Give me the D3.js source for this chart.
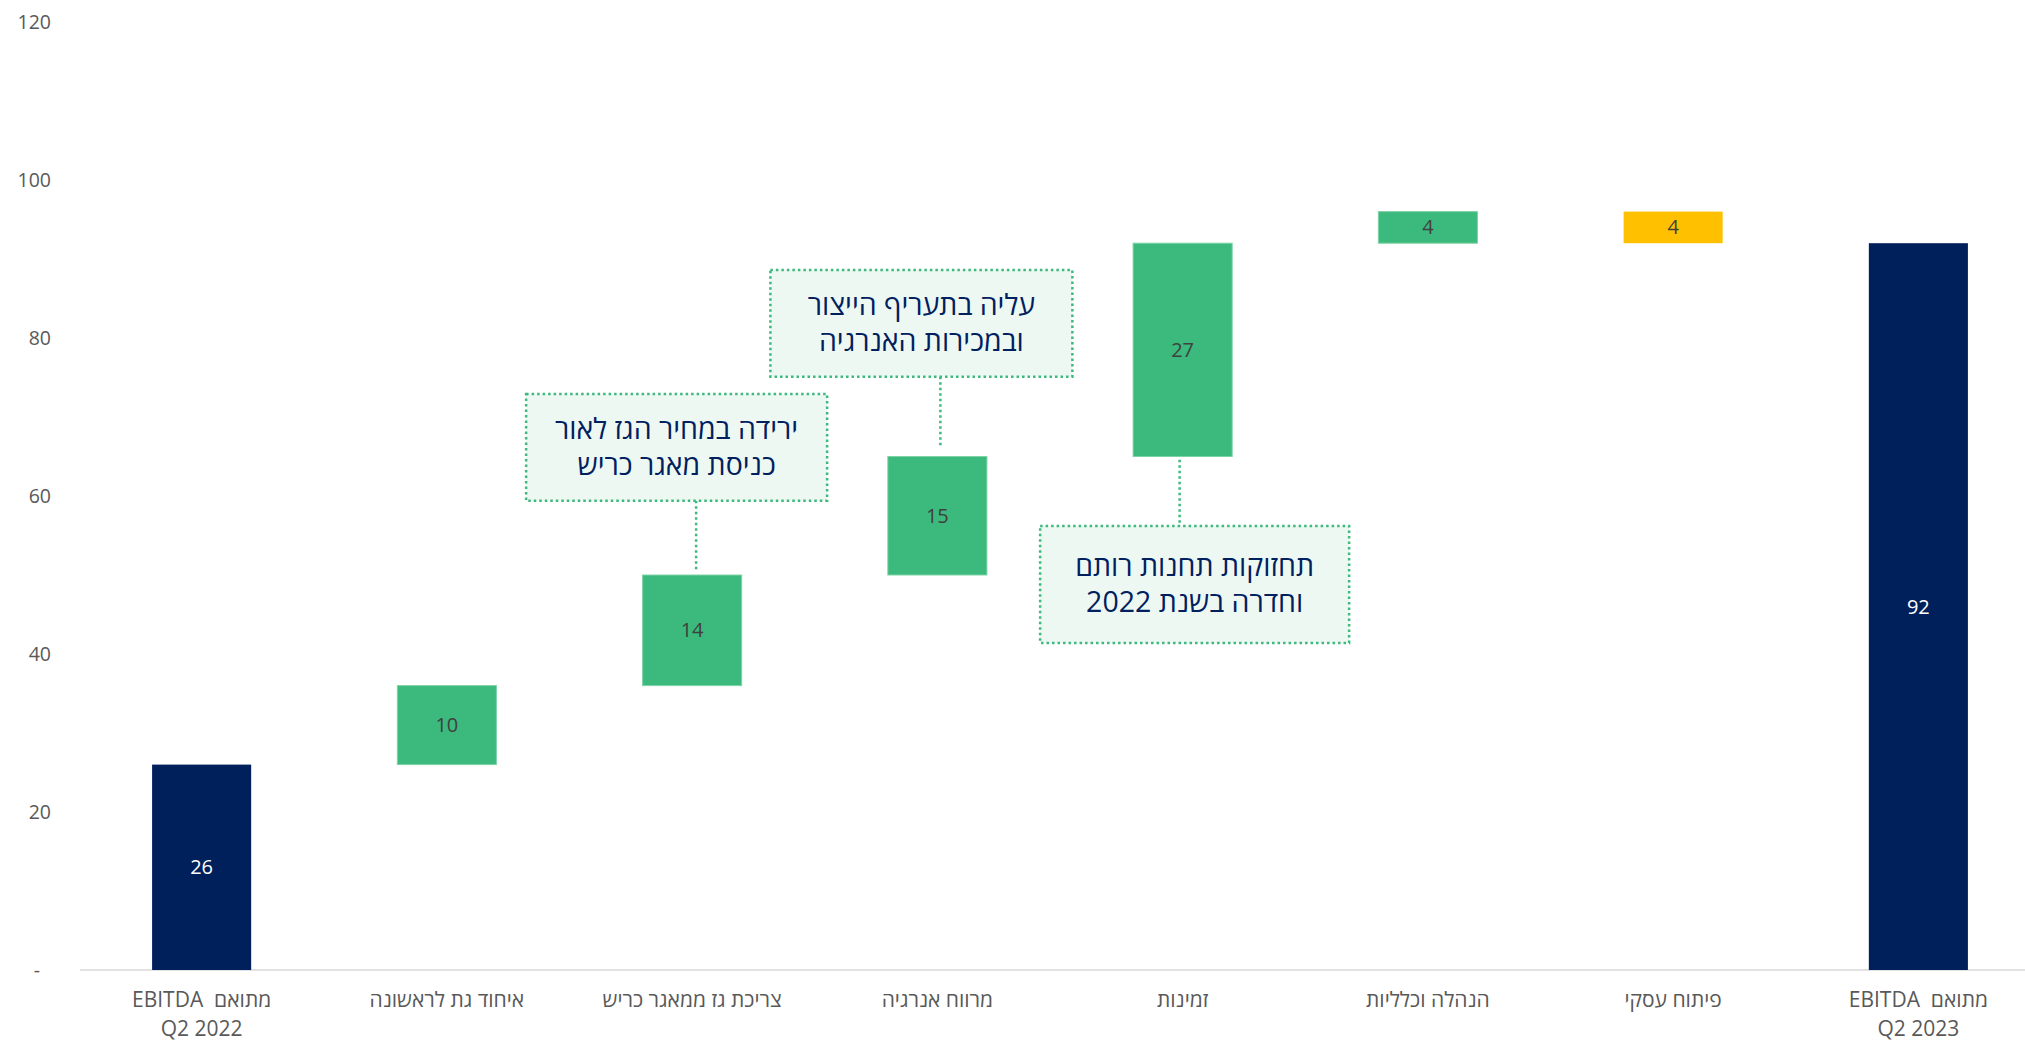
<!DOCTYPE html>
<html>
<head>
<meta charset="utf-8">
<script src="https://cdn.jsdelivr.net/npm/d3@7"></script>
<style>
  html, body { margin: 0; padding: 0; background: #ffffff; }
  svg { display: block; }
</style>
</head>
<body>
<svg id="chart" width="2025" height="1042"></svg>
<script>
// ---------------- DATA ----------------
const categories = [
  "מתואם\u00A0\u00A0EBITDA|Q2 2022",
  "איחוד גת לראשונה",
  "צריכת גז ממאגר כריש",
  "מרווח אנרגיה",
  "זמינות",
  "הנהלה וכלליות",
  "פיתוח עסקי",
  "מתואם\u00A0\u00A0EBITDA|Q2 2023"
];
const deltas = [26, 10, 14, 15, 27, 4, -4, 92];
const kinds  = ["total", "up", "up", "up", "up", "up", "down", "total"];
const yTicks = [0, 20, 40, 60, 80, 100, 120];

const notes = [
  { cat: 2, lines: ["ירידה במחיר הגז לאור", "כניסת מאגר כריש"] },
  { cat: 3, lines: ["עליה בתעריף הייצור", "ובמכירות האנרגיה"] },
  { cat: 4, lines: ["תחזוקות תחנות רותם", "וחדרה בשנת 2022"] }
];

// ---------------- LAYOUT ----------------
const W = 2025, H = 1042;
const svg = d3.select("#chart");

const x = d3.scaleBand()
  .domain(categories)
  .range([79, 2041])
  .paddingInner(0.596)
  .paddingOuter(0.298);

const y = d3.scaleLinear().domain([0, 120]).range([970, 22]);

const colors = { total: "#00205C", up: "#3CB97C", down: "#FFC000" };

// compute waterfall segments
let run = 0;
const bars = categories.map((c, i) => {
  let lo, hi;
  if (kinds[i] === "total") { lo = 0; hi = deltas[i]; run = deltas[i]; }
  else { const s = run; run = run + deltas[i]; lo = Math.min(s, run); hi = Math.max(s, run); }
  return { cat: c, lo, hi, kind: kinds[i], label: Math.abs(deltas[i]) };
});

// y axis labels
const yAxis = d3.axisLeft(y)
  .tickValues(yTicks)
  .tickSize(0)
  .tickPadding(0)
  .tickFormat(d => d === 0 ? "-" : d);

const gy = svg.append("g").attr("transform", "translate(51,0)").call(yAxis);
gy.select(".domain").remove();
gy.selectAll("text")
  .attr("fill", "#595959")
  .style("font-family", "'Open Sans', 'Noto Sans', sans-serif")
  .style("font-size", "19.5px")
  .attr("dx", d => d === 0 ? -11 : 0);

// baseline
svg.append("line")
  .attr("x1", 80).attr("x2", W)
  .attr("y1", y(0)).attr("y2", y(0))
  .attr("stroke", "#D9D9D9").attr("stroke-width", 1.5);

// bars
svg.append("g").selectAll("rect")
  .data(bars).join("rect")
  .attr("x", d => x(d.cat))
  .attr("width", x.bandwidth())
  .attr("y", d => y(d.hi))
  .attr("height", d => y(d.lo) - y(d.hi))
  .attr("fill", d => colors[d.kind])
  .attr("stroke", d => d.kind === "up" ? "#7ED3A6" : "none")
  .attr("stroke-width", 1);

// value labels
svg.append("g").selectAll("text")
  .data(bars).join("text")
  .attr("x", d => x(d.cat) + x.bandwidth() / 2)
  .attr("y", d => (y(d.lo) + y(d.hi)) / 2)
  .attr("dy", "0.35em")
  .attr("text-anchor", "middle")
  .attr("fill", d => d.kind === "total" ? "#FFFFFF" : "#404040")
  .style("font-family", "'Open Sans', 'Noto Sans', sans-serif")
  .style("font-size", "20px")
  .text(d => d.label);

// category labels
const catG = svg.append("g");
categories.forEach(c => {
  const parts = c.split("|");
  const t = catG.append("text")
    .attr("x", x(c) + x.bandwidth() / 2)
    .attr("y", 1007)
    .attr("text-anchor", "middle")
    .attr("direction", "rtl")
    .attr("fill", "#595959")
    .style("font-family", "'Liberation Sans Narrow', 'Open Sans', sans-serif")
    .style("font-size", "21px");
  parts.forEach((p, j) => {
    t.append("tspan")
      .attr("x", x(c) + x.bandwidth() / 2)
      .attr("y", 1007 + j * 29)
      .text(p);
  });
});

// annotations (box placement in data units relative to the category)
const noteLayout = [
  { dx: -15.5, w: 301, top: 72.9, bottom: 59.4, lineX: 4,  lineTo: 50.7, above: true },
  { dx: -16,   w: 302, top: 88.6, bottom: 75.1, lineX: 3,  lineTo: 66.2, above: true },
  { dx: 12,    w: 309, top: 56.2, bottom: 41.4, lineX: -3, lineTo: 64.6, above: false }
];

const noteG = svg.append("g");
notes.forEach((n, i) => {
  const L = noteLayout[i];
  const cat = categories[n.cat];
  const cx = x(cat) + x.bandwidth() / 2 + L.dx;
  const bx = cx - L.w / 2;
  const by = y(L.top), bh = y(L.bottom) - y(L.top);
  const lx = x(cat) + x.bandwidth() / 2 + L.lineX;

  // connector
  noteG.append("line")
    .attr("x1", lx).attr("x2", lx)
    .attr("y1", L.above ? y(L.bottom) : y(L.lineTo))
    .attr("y2", L.above ? y(L.lineTo) : y(L.top))
    .attr("stroke", "#3CB97C").attr("stroke-width", 2.5)
    .attr("stroke-dasharray", "2.5,3");

  noteG.append("rect")
    .attr("x", bx).attr("y", by)
    .attr("width", L.w).attr("height", bh)
    .attr("fill", "#EEF8F2")
    .attr("stroke", "#3CB97C").attr("stroke-width", 2.5)
    .attr("stroke-dasharray", "2.5,3");

  const t = noteG.append("text")
    .attr("text-anchor", "middle")
    .attr("direction", "rtl")
    .attr("fill", "#002060")
    .style("font-family", "'Open Sans', 'Noto Sans', 'DejaVu Sans', sans-serif")
    .style("font-size", "28.5px");
  const mid = by + bh / 2;
  n.lines.forEach((ln, j) => {
    t.append("tspan")
      .attr("x", cx)
      .attr("y", mid + (j - 0.5) * 36)
      .attr("dy", "0.35em")
      .text(ln);
  });
});
</script>
</body>
</html>
